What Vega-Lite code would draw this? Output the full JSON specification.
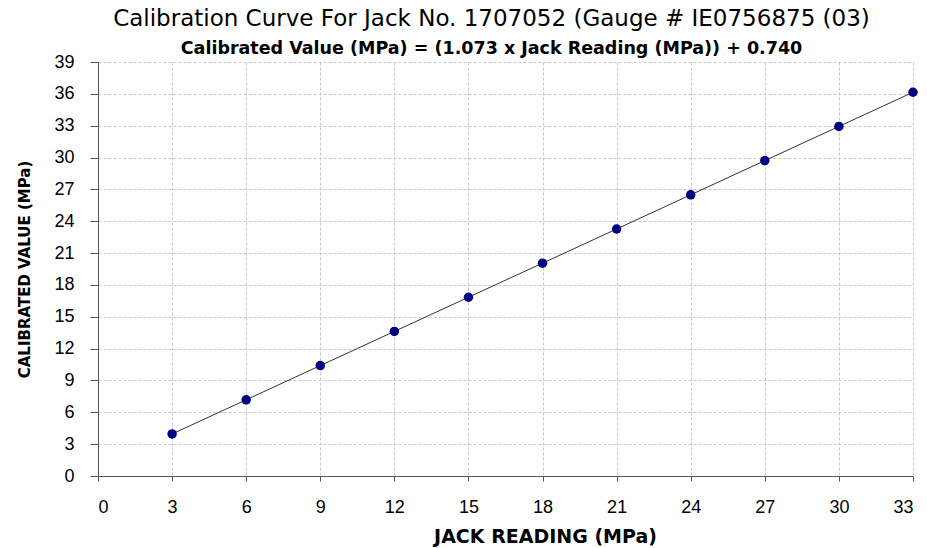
{
  "$schema": "https://vega.github.io/schema/vega-lite/v6.json",
  "width": 815,
  "height": 414,
  "autosize": {"type": "none"},
  "padding": {"left": 98, "top": 62, "right": 14, "bottom": 72},
  "background": "white",
  "title": {
    "text": "Calibration Curve For Jack No. 1707052 (Gauge # IE0756875 (03)",
    "subtitle": "Calibrated Value (MPa) = (1.073 x Jack Reading (MPa)) + 0.740",
    "anchor": "middle",
    "frame": "group",
    "dx": -14,
    "offset": -4,
    "font": "DejaVu Sans",
    "fontSize": 23,
    "fontWeight": "normal",
    "color": "black",
    "subtitleFont": "DejaVu Sans",
    "subtitleFontSize": 17.5,
    "subtitleFontWeight": "bold",
    "subtitleColor": "black",
    "subtitlePadding": 9
  },
  "data": {
    "values": [
      {"reading": 3, "calibrated": 3.96},
      {"reading": 6, "calibrated": 7.18},
      {"reading": 9, "calibrated": 10.40},
      {"reading": 12, "calibrated": 13.62},
      {"reading": 15, "calibrated": 16.84},
      {"reading": 18, "calibrated": 20.05},
      {"reading": 21, "calibrated": 23.27},
      {"reading": 24, "calibrated": 26.49},
      {"reading": 27, "calibrated": 29.71},
      {"reading": 30, "calibrated": 32.93},
      {"reading": 33, "calibrated": 36.15}
    ]
  },
  "encoding": {
    "x": {
      "field": "reading",
      "type": "quantitative",
      "scale": {"domain": [0, 33], "nice": false, "zero": true},
      "axis": {
        "title": "JACK READING (MPa)",
        "titleX": 447,
        "values": [0, 3, 6, 9, 12, 15, 18, 21, 24, 27, 30, 33],
        "tickSize": 5,
        "labelPadding": 17,
        "labelFontSize": 18,
        "labelFont": "Liberation Sans",
        "labelColor": "black",
        "titleFont": "DejaVu Sans",
        "titleFontSize": 19,
        "titleFontWeight": "bold",
        "titleColor": "black",
        "titlePadding": 11,
        "domainColor": "#555555",
        "tickColor": "#555555",
        "gridColor": "#c8c8c8",
        "gridDash": [3, 2],
        "gridWidth": 1
      }
    },
    "y": {
      "field": "calibrated",
      "type": "quantitative",
      "scale": {"domain": [0, 39], "nice": false},
      "axis": {
        "title": "CALIBRATED VALUE  (MPa)",
        "values": [0, 3, 6, 9, 12, 15, 18, 21, 24, 27, 30, 33, 36, 39],
        "tickSize": 8,
        "labelPadding": 16,
        "labelFontSize": 18,
        "labelFont": "Liberation Sans",
        "labelColor": "black",
        "titleFont": "DejaVu Sans",
        "titleFontSize": 15,
        "titleFontWeight": "bold",
        "titleColor": "black",
        "titlePadding": 21,
        "domainColor": "#555555",
        "tickColor": "#555555",
        "gridColor": "#c8c8c8",
        "gridDash": [3, 2],
        "gridWidth": 1
      }
    }
  },
  "layer": [
    {"mark": {"type": "line", "color": "#333333", "strokeWidth": 1}},
    {"mark": {"type": "point", "filled": true, "color": "#000080", "size": 90, "opacity": 1}}
  ],
  "config": {"view": {"stroke": null}}
}
